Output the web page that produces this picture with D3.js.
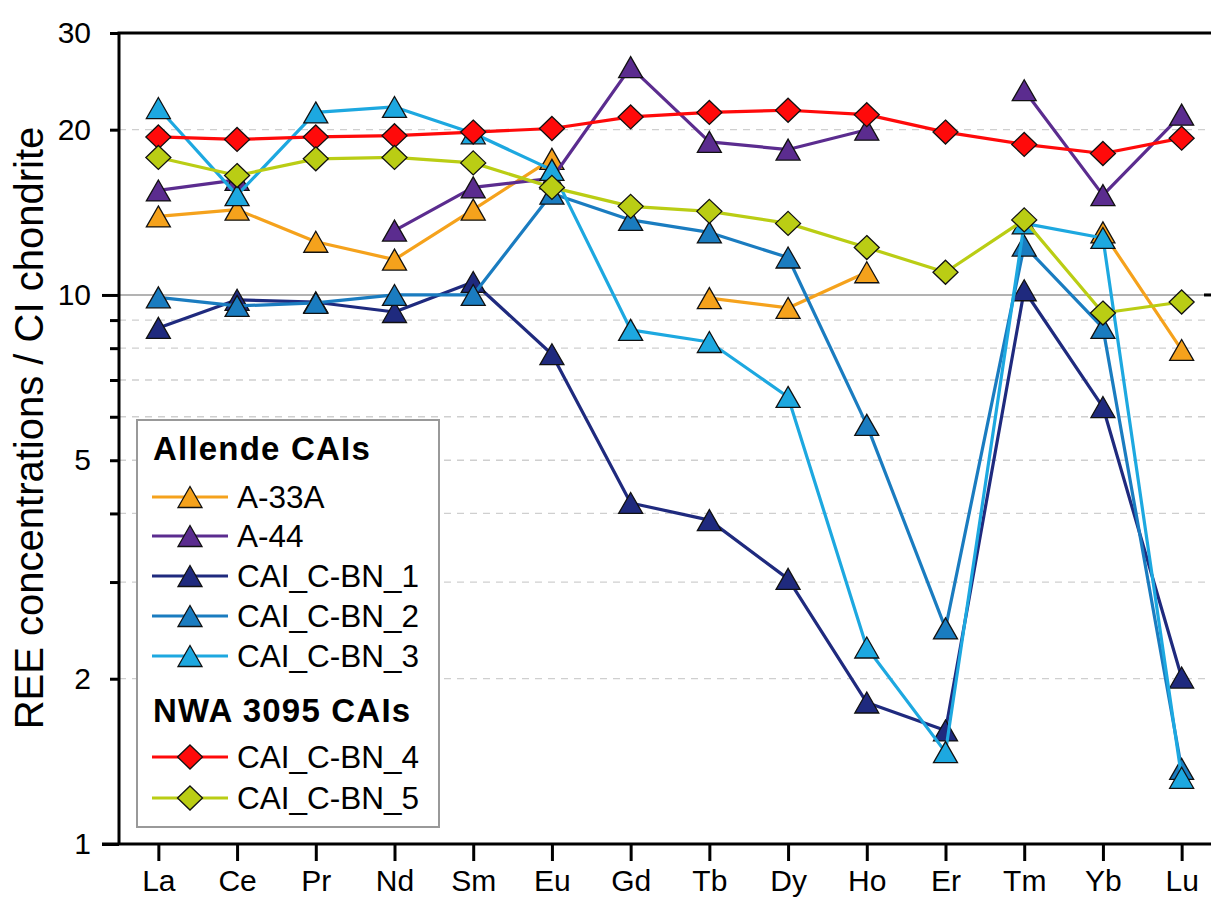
<!DOCTYPE html>
<html>
<head>
<meta charset="utf-8">
<script src="https://cdn.jsdelivr.net/npm/d3@7"></script>
<style>
  body { margin: 0; background: #fff; }
  svg { display: block; font-family: "Liberation Sans", Arial, sans-serif; }
</style>
</head>
<body>
<svg id="chart" width="1211" height="898"></svg>
<script>
// REE elements (x categories)
const elements = ["La","Ce","Pr","Nd","Sm","Eu","Gd","Tb","Dy","Ho","Er","Tm","Yb","Lu"];

// CI-normalised concentrations (null = not measured)
const a33a = [13.9,14.3,12.5,11.6,14.3,17.7,null,9.87,9.47,11.0,null,null,13.0,7.94];
const a44  = [15.5,16.2,null,13.1,15.7,16.3,26.0,19.0,18.4,20.0,null,23.6,15.2,21.3];
const cbn1 = [8.71,9.8,9.7,9.31,10.56,7.8,4.18,3.89,3.04,1.81,1.61,10.2,6.25,2.01];
const cbn2 = [9.9,9.55,9.67,10.0,10.0,15.3,13.7,13.0,11.7,5.8,2.47,12.3,8.71,1.37];
const cbn3 = [21.9,15.2,21.5,22.0,19.7,16.9,8.64,8.21,6.52,2.28,1.47,13.5,12.7,1.32];
const cbn4 = [19.4,19.2,19.4,19.5,19.8,20.1,21.1,21.5,21.7,21.3,19.8,18.8,18.1,19.3];
const cbn5 = [17.8,16.5,17.7,17.8,17.4,15.7,14.5,14.2,13.5,12.2,11.0,13.7,9.27,9.71];

const yTicks = [1,2,3,4,5,6,7,8,9,10,20,30];
const yLabels = [1,2,5,10,20,30];
const yDashed = [2,3,4,5,6,7,8,9,20];

const series = [
  {name:"A-33A",      values:a33a, color:"#F5A21C", shape:"tri"},
  {name:"A-44",       values:a44,  color:"#5B2C8F", shape:"tri"},
  {name:"CAI_C-BN_1", values:cbn1, color:"#1F2A7E", shape:"tri"},
  {name:"CAI_C-BN_2", values:cbn2, color:"#1A7CC0", shape:"tri"},
  {name:"CAI_C-BN_3", values:cbn3, color:"#1DA8E0", shape:"tri"},
  {name:"CAI_C-BN_4", values:cbn4, color:"#FF0A0A", shape:"dia"},
  {name:"CAI_C-BN_5", values:cbn5, color:"#BACD14", shape:"dia"}
];

const svg = d3.select("#chart");
const gauche = 119, droite = 1221, haut = 33, bas = 844;

const x = d3.scalePoint().domain(elements).range([gauche, droite]).padding(0.5);
const y = d3.scaleLog().domain([1, 30]).range([bas, haut]);

const triangle = "M0,-10.5L12,10.5L-12,10.5Z";
const losange = "M0,-12L12.5,0L0,12L-12.5,0Z";

// grille
svg.append("g")
  .selectAll("line")
  .data(yDashed)
  .join("line")
  .attr("x1", gauche).attr("x2", droite)
  .attr("y1", d => y(d)).attr("y2", d => y(d))
  .attr("stroke", "#cfcfcf")
  .attr("stroke-width", 1.3)
  .attr("stroke-dasharray", "7,6");

svg.append("line")
  .attr("x1", gauche).attr("x2", droite)
  .attr("y1", y(10)).attr("y2", y(10))
  .attr("stroke", "#9a9a9a")
  .attr("stroke-width", 1.6);

// cadre haut + tick droit a 10
svg.append("line")
  .attr("x1", gauche - 1.5).attr("x2", droite)
  .attr("y1", haut).attr("y2", haut)
  .attr("stroke", "#000").attr("stroke-width", 3);
svg.append("line")
  .attr("x1", droite - 17).attr("x2", droite)
  .attr("y1", y(10)).attr("y2", y(10))
  .attr("stroke", "#000").attr("stroke-width", 3);

// axe y
const axeY = svg.append("g")
  .attr("transform", `translate(${gauche},0)`)
  .call(d3.axisLeft(y).tickValues(yTicks).tickSizeOuter(0)
    .tickFormat(d => yLabels.includes(d) ? d : ""));
axeY.select(".domain").attr("stroke-width", 3).attr("d", `M0,${haut}V${bas}`);
axeY.selectAll(".tick line")
  .attr("stroke-width", 3)
  .attr("x2", d => (d === 1 || d === 10) ? -17 : -9);
axeY.selectAll(".tick text")
  .attr("x", -28)
  .style("font-size", "30px")
  .style("font-family", "'Liberation Sans', Arial, sans-serif")
  .attr("fill", "#000");

// axe x
const axeX = svg.append("g")
  .attr("transform", `translate(0,${bas})`)
  .call(d3.axisBottom(x).tickSize(17).tickPadding(9).tickSizeOuter(0));
axeX.select(".domain").attr("stroke-width", 3).attr("d", `M${gauche - 17},0H${droite}`);
axeX.selectAll(".tick line").attr("stroke-width", 3);
axeX.selectAll(".tick text")
  .style("font-size", "30px")
  .style("font-family", "'Liberation Sans', Arial, sans-serif")
  .attr("fill", "#000");

// titre axe y
svg.append("text")
  .attr("transform", `translate(43,428) rotate(-90)`)
  .attr("text-anchor", "middle")
  .style("font-size", "40px")
  .text("REE concentrations / CI chondrite");

// courbes
const ligne = d3.line()
  .defined(d => d.v !== null)
  .x(d => x(d.el))
  .y(d => y(d.v));

const courbes = svg.append("g")
  .selectAll(".serie")
  .data(series)
  .join("g")
  .attr("class", "serie");

courbes.each(function(s) {
  const pts = elements.map((el, i) => ({el: el, v: s.values[i]}));
  const g = d3.select(this);
  g.append("path")
    .attr("d", ligne(pts))
    .attr("fill", "none")
    .attr("stroke", s.color)
    .attr("stroke-width", 3.2)
    .attr("stroke-linejoin", "round");
  g.selectAll(".pt")
    .data(pts.filter(p => p.v !== null))
    .join("path")
    .attr("class", "pt")
    .attr("d", s.shape === "tri" ? triangle : losange)
    .attr("transform", p => `translate(${x(p.el)},${y(p.v)})`)
    .attr("fill", s.color)
    .attr("stroke", "#111")
    .attr("stroke-width", 1.3);
});

// legende
const leg = svg.append("g");
leg.append("rect")
  .attr("x", 137).attr("y", 420)
  .attr("width", 302).attr("height", 407)
  .attr("fill", "#fff")
  .attr("stroke", "#999")
  .attr("stroke-width", 2);

const titres = [{t:"Allende CAIs", y:448}, {t:"NWA 3095 CAIs", y:710}];
leg.selectAll(".titre")
  .data(titres)
  .join("text")
  .attr("class", "titre")
  .attr("x", 153)
  .attr("y", d => d.y)
  .attr("dy", "0.36em")
  .style("font-size", "33px")
  .style("font-weight", "bold")
  .style("letter-spacing", "1.2px")
  .text(d => d.t);

const rangY = [497, 536, 576, 616, 656, 757, 798];
const items = leg.selectAll(".item")
  .data(series)
  .join("g")
  .attr("class", "item")
  .attr("transform", (d, i) => `translate(0,${rangY[i]})`);

items.append("line")
  .attr("x1", 152).attr("x2", 228)
  .attr("stroke", d => d.color)
  .attr("stroke-width", 3.2);
items.append("path")
  .attr("d", d => d.shape === "tri" ? triangle : losange)
  .attr("transform", "translate(190,0)")
  .attr("fill", d => d.color)
  .attr("stroke", "#111")
  .attr("stroke-width", 1.3);
items.append("text")
  .attr("x", 237)
  .attr("dy", "0.36em")
  .style("font-size", "31.5px")
  .text(d => d.name);
</script>
</body>
</html>
